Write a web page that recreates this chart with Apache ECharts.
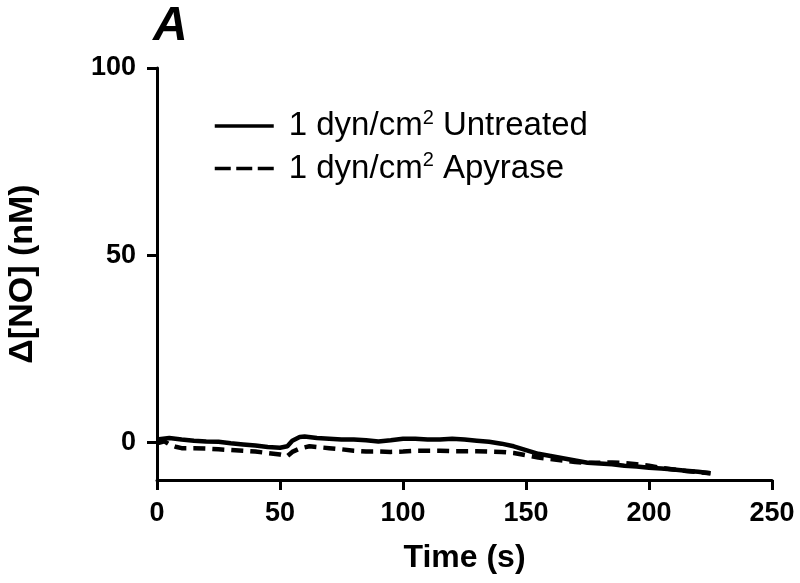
<!DOCTYPE html>
<html>
<head>
<meta charset="utf-8">
<script src="https://cdn.jsdelivr.net/npm/echarts@6/dist/echarts.min.js"></script>
<style>html,body{margin:0;padding:0;background:#fff;}#c{width:800px;height:583px;}</style>
</head>
<body>
<div id="c"></div>
<script>
const timeUntreated = [0,5,10,15,20,25,30,35,40,45,50,53,55,58,60,65,70,75,80,85,90,95,100,105,110,115,120,125,130,135,140,145,150,155,160,165,170,175,180,185,190,195,200,205,210,215,220,225];
const untreated = [0.8,1.2,0.8,0.5,0.3,0.2,-0.2,-0.5,-0.8,-1.2,-1.4,-1.0,0.5,1.5,1.6,1.2,1.0,0.8,0.8,0.6,0.3,0.6,1.0,1.0,0.8,0.8,1.0,0.8,0.5,0.2,-0.3,-1.0,-2.0,-3.0,-3.6,-4.2,-4.8,-5.4,-5.6,-5.8,-6.2,-6.4,-6.7,-6.9,-7.2,-7.5,-7.8,-8.2];
const timeApyrase = [0,3,5,8,10,15,20,25,30,35,40,45,50,53,55,58,62,65,70,75,80,85,90,95,100,105,110,115,120,125,130,135,140,145,150,155,160,165,170,175,180,185,190,195,200,205,210,215,220,225];
const apyrase = [-0.2,0.3,-0.5,-1.2,-1.5,-1.5,-1.6,-1.8,-2.0,-2.2,-2.4,-2.8,-3.2,-3.6,-2.5,-1.6,-1.0,-1.2,-1.5,-1.8,-2.2,-2.4,-2.4,-2.5,-2.4,-2.2,-2.2,-2.2,-2.3,-2.3,-2.3,-2.4,-2.5,-2.8,-3.4,-4.0,-4.4,-4.8,-5.2,-5.4,-5.4,-5.3,-5.5,-5.8,-6.2,-6.8,-7.2,-7.6,-7.9,-8.2];
const xTicks = [0,50,100,150,200,250];
const yTicks = [0,50,100];
const seriesNames = ['1 dyn/cm2 Untreated','1 dyn/cm2 Apyrase'];

const F = '"Liberation Sans", Arial, sans-serif';
const chart = echarts.init(document.getElementById('c'), null, {renderer:'canvas'});
chart.setOption({
  backgroundColor:'#fff',
  animation:false,
  title:{text:'A', left:148, top:-2, textStyle:{fontFamily:F, fontSize:48, fontWeight:'bold', fontStyle:'italic', color:'#000'}},
  grid:{left:157, right:28, top:68, bottom:103, containLabel:false, outerBoundsMode:'none'},
  legend:{
    left:208, top:103, orient:'vertical', itemGap:8,
    itemWidth:59, itemHeight:4,
    formatter: n => n.replace('cm2','cm{sup|2}'),
    itemStyle:{color:'rgba(0,0,0,0)', borderWidth:0, opacity:0},
    textStyle:{fontFamily:F, fontSize:33, color:'#000', padding:[0,0,0,10],
      rich:{sup:{fontFamily:F, fontSize:20, verticalAlign:'top', padding:[0,0,16,0], color:'#000'}}},
    data: [
      {name: seriesNames[0], lineStyle:{width:3.5}},
      {name: seriesNames[1], lineStyle:{width:3.5, type:[16,5.5]}}
    ]
  },
  xAxis:{
    type:'value', min:0, max:250, interval:50,
    name:'Time (s)', nameLocation:'middle', nameGap:62,
    nameTextStyle:{fontFamily:F, fontSize:32, fontWeight:'bold', color:'#000'},
    axisLine:{show:true, onZero:false, lineStyle:{color:'#000', width:3}},
    axisTick:{show:true, length:10, lineStyle:{color:'#000', width:3}},
    axisLabel:{fontFamily:F, fontSize:27, fontWeight:'bold', color:'#000', margin:20, customValues:xTicks},
    splitLine:{show:false}
  },
  yAxis:{
    type:'value', min:-10, max:100,
    name:'Δ[NO] (nM)', nameLocation:'middle', nameGap:117, nameRotate:90,
    nameTextStyle:{fontFamily:F, fontSize:34, fontWeight:'bold', color:'#000'},
    axisLine:{show:true, onZero:false, lineStyle:{color:'#000', width:3}},
    axisTick:{show:true, length:10, lineStyle:{color:'#000', width:3}, customValues:yTicks},
    axisLabel:{fontFamily:F, fontSize:27, fontWeight:'bold', color:'#000', margin:21, customValues:yTicks},
    splitLine:{show:false}
  },
  series:[
    {name:seriesNames[0], type:'line', symbol:'none', data: timeUntreated.map((t,i)=>[t,untreated[i]]),
      lineStyle:{color:'#000', width:4.5}, itemStyle:{color:'#000'}},
    {name:seriesNames[1], type:'line', symbol:'none', data: timeApyrase.map((t,i)=>[t,apyrase[i]]),
      lineStyle:{color:'#000', width:4.5, type:[12,7]}, itemStyle:{color:'#000'}}
  ]
});
</script>
</body>
</html>
